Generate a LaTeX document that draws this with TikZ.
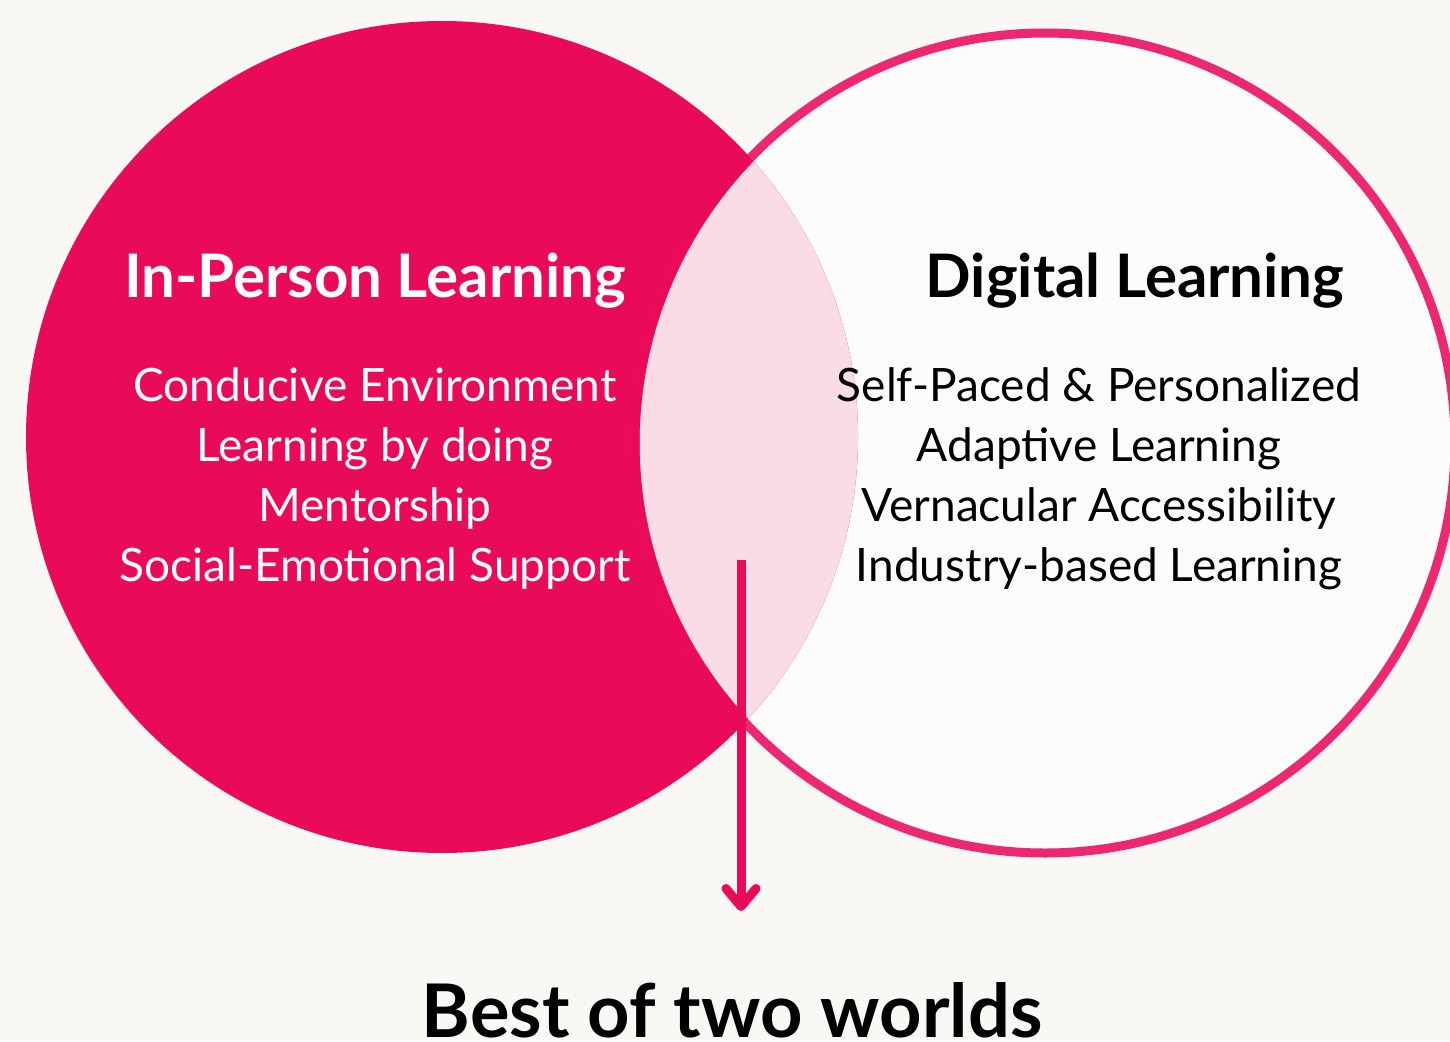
\documentclass[tikz,border=0pt]{standalone}
\usepackage{fontspec}
\setmainfont{Lato}
\usepackage{xcolor}
\usetikzlibrary{arrows.meta}
\definecolor{venpink}{HTML}{EA0A5A}
\definecolor{venring}{HTML}{EC2873}
\definecolor{venlens}{HTML}{F9DCE5}
\definecolor{venpaper}{HTML}{F9F8F4}
\definecolor{veninner}{HTML}{FCFCFA}

\begin{document}
\begin{tikzpicture}[x=1pt,y=-1pt,
            heading/.style = {anchor=base, font=\fontsize{60}{60}\selectfont\bfseries},
            item/.style = {anchor=base, font=\fontsize{46}{60}\selectfont},
            ring/.style = {line width=9pt}]
        \useasboundingbox[fill=venpaper] (0,0) rectangle (1450,1041);
        % the two circles and their overlap
        \fill[veninner] (1045,443) circle (410pt);
        \fill[venpink] (442,437) circle (416pt);
        \begin{scope}
            \clip (1045,443) circle (410pt);
            \fill[venlens] (442,437) circle (416pt);
        \end{scope}
        \draw[ring, venring] (1045,443) circle (410pt);
        \begin{scope}
            \clip (442,437) circle (416pt);
            \draw[ring, venpink] (1045,443) circle (410pt);
        \end{scope}
        % texts
        \node[heading, text=white] (inperson) at (375,297) {In-Person Learning};
        \node[heading] (digital) at (1135,297) {Digital Learning};
        \foreach \txt [count=\i] in {Conducive Environment, Learning by doing, Mentorship, Social-Emotional Support}
            \node[item, text=white] (inp\i) at (375,{341+60*\i}) {\txt};
        \foreach \txt [count=\i] in {Self-Paced \& Personalized, Adaptive Learning, Vernacular Accessibility, Industry-based Learning}
            \node[item] (dig\i) at (1099,{341+60*\i}) {\txt};
        \node[anchor=base, font=\fontsize{74}{74}\selectfont\bfseries] (best) at (732,1037) {Best of two worlds};
        % arrow
        \coordinate (arrtop) at (741,560);
        \coordinate (arrtip) at (741,911);
        \draw[venpink, line width=9pt, -{Straight Barb[length=18pt, width=30pt, line cap=round, line join=round]}] (arrtop) -- (arrtip);
\end{tikzpicture}
\end{document}
